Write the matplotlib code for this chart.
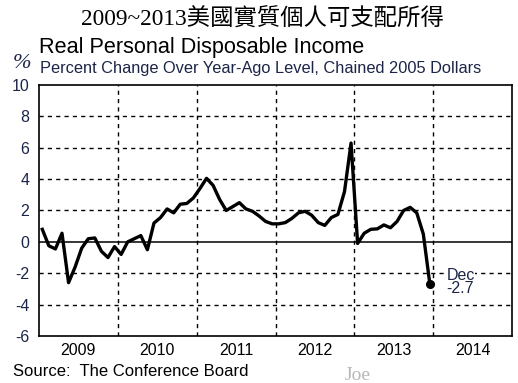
import numpy as np
import matplotlib.pyplot as plt

plt.rcParams['font.family'] = ['Liberation Sans', 'DejaVu Sans']

# monthly % change over year-ago level, Jan 2009 .. Dec 2013
vals_2009 = [0.8, -0.25, -0.45, 0.55, -2.6, -1.6, -0.4, 0.2, 0.25, -0.6, -1.0, -0.3]
vals_2010 = [-0.8, 0.0, 0.2, 0.4, -0.5, 1.2, 1.55, 2.1, 1.85, 2.4, 2.45, 2.8]
vals_2011 = [3.4, 4.05, 3.6, 2.7, 2.0, 2.25, 2.5, 2.1, 1.95, 1.65, 1.3, 1.15]
vals_2012 = [1.15, 1.23, 1.5, 1.85, 1.95, 1.7, 1.23, 1.05, 1.55, 1.75, 3.2, 6.3]
vals_2013 = [-0.1, 0.55, 0.8, 0.83, 1.08, 0.9, 1.3, 2.0, 2.2, 1.85, 0.5, -2.7]
values = vals_2009 + vals_2010 + vals_2011 + vals_2012 + vals_2013
years = [2009, 2010, 2011, 2012, 2013, 2014]
y_ticks = [-6, -4, -2, 0, 2, 4, 6, 8, 10]

NAVY = '#1c2548'
months = 2009 + (np.arange(len(values)) + 0.5) / 12

fig = plt.figure(figsize=(5.18, 3.83), dpi=100)
ax = fig.add_axes([39 / 518, 47 / 383, 473 / 518, 251 / 383])

ax.plot(months, values, color='black', lw=2.4, solid_joinstyle='round', zorder=3)
ax.plot(months[-1], values[-1], 'o', color='black', ms=5.5, zorder=4)

ax.set_xlim(2009, 2015)
ax.set_ylim(-6, 10)

# grid: dashed at year boundaries and every 2%, solid zero line
for yr in years[1:]:
    ax.axvline(yr, color='black', lw=1, ls=(0, (3, 3)), zorder=1)
for yv in y_ticks[1:-1]:
    if yv == 0:
        ax.axhline(0, color='black', lw=1.1, zorder=1)
    else:
        ax.axhline(yv, color='black', lw=1, ls=(0, (3, 3)), zorder=1)

ax.set_yticks(y_ticks)
ax.set_yticklabels([str(t) for t in y_ticks])
ax.set_xticks([y + 0.5 for y in years])
ax.set_xticklabels([str(y) for y in years])
ax.tick_params(length=0, labelsize=11.5, pad=5)
ax.tick_params(axis='y', labelcolor=NAVY, pad=7)
for sp in ax.spines.values():
    sp.set_linewidth(1.2)

ax.text(months[-1] + 0.21, values[-1] + 0.15, 'Dec\n-2.7', fontsize=11.5, color=NAVY,
        va='center', ha='left', linespacing=0.85, zorder=2,
        bbox=dict(facecolor='white', edgecolor='none', pad=0.5))

fig.text(262 / 518, 1 - 20 / 383, '2009~2013美國實質個人可支配所得', fontsize=16.8,
         family=['Liberation Serif', 'Noto Sans CJK TC'], ha='center', va='center')
fig.text(39 / 518, 1 - 48 / 383, 'Real Personal Disposable Income', fontsize=15.6,
         ha='left', va='center')
fig.text(40 / 518, 1 - 69 / 383, 'Percent Change Over Year-Ago Level, Chained 2005 Dollars',
         fontsize=11.8, color=NAVY, ha='left', va='center')
fig.text(13 / 518, 1 - 63 / 383, '%', fontsize=16, family='Liberation Serif',
         style='italic', color=NAVY, ha='left', va='center')
fig.text(13 / 518, 1 - 372 / 383, 'Source:  The Conference Board', fontsize=12,
         ha='left', va='center')
fig.text(345 / 518, 1 - 375 / 383, 'Joe', fontsize=14, family='Liberation Serif',
         color='#b8b8b8', ha='left', va='center')

fig.savefig('out.png', dpi=100)
